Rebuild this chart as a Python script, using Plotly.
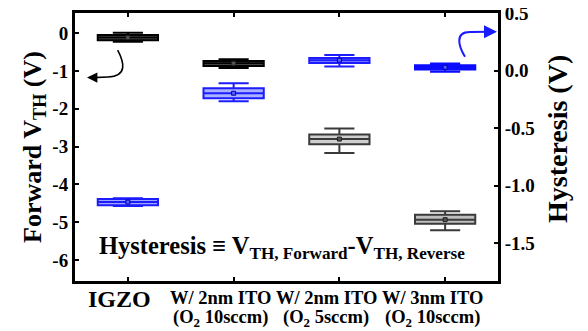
import plotly.graph_objects as go

# ---------------- data ----------------
categories = ["IGZO", "2nm_10", "2nm_5", "3nm_10"]
label_line1 = ["IGZO", "W/ 2nm ITO", "W/ 2nm ITO", "W/ 3nm ITO"]
label_line2 = ["", "(O<sub>2</sub> 10sccm)", "(O<sub>2</sub> 5sccm)", "(O<sub>2</sub> 10sccm)"]

# Forward V_TH (left axis)
fwd_lower = [-0.23, -0.92, -3.17, -5.21]
fwd_q1 = [-0.19, -0.87, -2.94, -5.04]
fwd_median = [-0.12, -0.80, -2.80, -4.93]
fwd_q3 = [-0.05, -0.74, -2.68, -4.80]
fwd_upper = [0.01, -0.69, -2.52, -4.71]

# Hysteresis (right axis)
hys_lower = [-1.178, -0.265, 0.036, -0.010]
hys_q1 = [-1.170, -0.239, 0.068, 0.010]
hys_median = [-1.143, -0.196, 0.091, 0.030]
hys_q3 = [-1.117, -0.152, 0.111, 0.048]
hys_upper = [-1.109, -0.109, 0.137, 0.063]

left_ticks = [0, -1, -2, -3, -4, -5, -6]
left_ticktext = ["0", "-1", "-2", "-3", "-4", "-5", "-6"]
right_ticks = [0.5, 0.0, -0.5, -1.0, -1.5]
right_ticktext = ["0.5", "0.0", "-0.5", "-1.0", "-1.5"]

# ---------------- styles ----------------
fwd_fill = ["#5a5a5a", "#5a5a5a", "#cfcfcf", "#bfbfbf"]
fwd_line = ["#000000", "#000000", "#3a3a3a", "#3a3a3a"]
hys_fill = ["#9ea6ff", "#aab2ff", "#8a93ff", "#1414ff"]
hys_line = ["#1c1cff", "#1c1cff", "#1c1cff", "#0b0bff"]

FONT = "Liberation Serif"
BOX_W = 0.57

fig = go.Figure()

for i, c in enumerate(categories):
    fig.add_trace(go.Box(
        x=[c], q1=[fwd_q1[i]], median=[fwd_median[i]], q3=[fwd_q3[i]],
        lowerfence=[fwd_lower[i]], upperfence=[fwd_upper[i]],
        boxpoints=False, width=BOX_W, whiskerwidth=0.5,
        fillcolor=fwd_fill[i], line=dict(color=fwd_line[i], width=2),
        yaxis="y", showlegend=False, hoverinfo="skip"))
    fig.add_trace(go.Scatter(
        x=[c], y=[fwd_median[i]], mode="markers", yaxis="y",
        marker=dict(symbol="square", size=4, color="#555555",
                    line=dict(color="#222222", width=1)),
        showlegend=False, hoverinfo="skip"))
    fig.add_trace(go.Box(
        x=[c], q1=[hys_q1[i]], median=[hys_median[i]], q3=[hys_q3[i]],
        lowerfence=[hys_lower[i]], upperfence=[hys_upper[i]],
        boxpoints=False, width=BOX_W, whiskerwidth=0.5,
        fillcolor=hys_fill[i], line=dict(color=hys_line[i], width=2),
        yaxis="y2", showlegend=False, hoverinfo="skip"))
    fig.add_trace(go.Scatter(
        x=[c], y=[hys_median[i]], mode="markers", yaxis="y2",
        marker=dict(symbol="square", size=4, color="#5560ff",
                    line=dict(color="#0000aa", width=1)),
        showlegend=False, hoverinfo="skip"))

# The page body has an 8px default margin; compensate so the plot area
# lands at screen x 75..498, y 13..281.
OFF = 8
W, H = 588 - OFF, 331 - OFF
L, R, T, B = 75 - OFF, 90, 13 - OFF, 50
PX0, PX1, PY0, PY1 = 75, 498, 13, 281


def px(x):
    return (x - PX0) / (PX1 - PX0)


def py(y):
    return (PY1 - y) / (PY1 - PY0)


def pt(x, y):
    return f"{px(x):.4f},{py(y):.4f}"


black_path = f"M {pt(117.7, 50)} C {pt(124, 62)} {pt(128, 76)} {pt(108, 77)} L {pt(93, 77.6)}"
blue_path = f"M {pt(465, 56.7)} C {pt(459, 47)} {pt(454, 32)} {pt(470, 32)} L {pt(490, 31.7)}"

annotations = [
    dict(xref="paper", yref="paper", x=px(87), y=py(77.6), ax=9, ay=0,
         text="", showarrow=True, arrowhead=2, arrowsize=1.3,
         arrowwidth=1.6, arrowcolor="black"),
    dict(xref="paper", yref="paper", x=px(497), y=py(31.7), ax=-9, ay=0,
         text="", showarrow=True, arrowhead=2, arrowsize=1.3,
         arrowwidth=2, arrowcolor="#1a1aff"),
    dict(xref="paper", yref="paper", x=px(282), y=py(247),
         xanchor="center", yanchor="middle", showarrow=False,
         text="<b>Hysteresis ≡ V<sub>TH, Forward</sub>-V<sub>TH, Reverse</sub></b>",
         font=dict(family=FONT, size=24.5, color="black")),
    dict(xref="paper", yref="paper", x=px(557), y=py(139),
         xanchor="center", yanchor="middle", showarrow=False, textangle=-90,
         text="<b>Hysteresis (V)</b>",
         font=dict(family=FONT, size=28, color="black")),
]

# category labels (two lines, drawn as text below the axis)
for i, c in enumerate(categories):
    if label_line2[i]:
        annotations.append(dict(
            xref="x", yref="paper", x=c, y=py(298), xshift=-13,
            xanchor="center", yanchor="middle", showarrow=False,
            text=f"<b>{label_line1[i]}</b>",
            font=dict(family=FONT, size=18.5, color="black")))
        annotations.append(dict(
            xref="x", yref="paper", x=c, y=py(318), xshift=-13,
            xanchor="center", yanchor="middle", showarrow=False,
            text=f"<b>{label_line2[i]}</b>",
            font=dict(family=FONT, size=18.5, color="black")))
    else:
        annotations.append(dict(
            xref="x", yref="paper", x=c, y=py(299), xshift=-8,
            xanchor="center", yanchor="middle", showarrow=False,
            text=f"<b>{label_line1[i]}</b>",
            font=dict(family=FONT, size=24, color="black")))

fig.update_layout(
    shapes=[
        dict(type="path", xref="paper", yref="paper", path=black_path,
             line=dict(color="black", width=1.6)),
        dict(type="path", xref="paper", yref="paper", path=blue_path,
             line=dict(color="#1a1aff", width=2)),
    ],
    annotations=annotations,
)

fig.update_layout(
    width=W, height=H,
    margin=dict(l=L, r=R, t=T, b=B, pad=0, autoexpand=False),
    paper_bgcolor="white", plot_bgcolor="white",
    boxmode="overlay",
    font=dict(family=FONT, color="black"),
    xaxis=dict(
        type="category", categoryorder="array", categoryarray=categories,
        range=[-0.5, 3.5], tickmode="array", tickvals=categories,
        showticklabels=False,
        showline=True, linewidth=3, linecolor="black", mirror="ticks",
        ticks="inside", ticklen=4, tickwidth=2, tickcolor="black",
        showgrid=False, zeroline=False, automargin=False,
    ),
    yaxis=dict(
        range=[-6.55, 0.53], tickmode="array", tickvals=left_ticks,
        ticktext=[f"<b>{t}</b>" for t in left_ticktext],
        tickfont=dict(family=FONT, size=19, color="black"),
        ticklabeloverflow="allow",
        title=dict(text="<b>Forward V<sub>TH</sub> (V)</b>",
                   font=dict(family=FONT, size=26, color="black"), standoff=4),
        showline=True, linewidth=3, linecolor="black",
        ticks="inside", ticklen=4, tickwidth=2, tickcolor="black",
        showgrid=False, zeroline=False, automargin=False,
    ),
    yaxis2=dict(
        overlaying="y", side="right",
        range=[-1.83, 0.502], tickmode="array", tickvals=right_ticks,
        ticktext=[f"<b>{t}</b>" for t in right_ticktext],
        tickfont=dict(family=FONT, size=19, color="black"),
        ticklabeloverflow="allow",
        showline=True, linewidth=3, linecolor="black",
        ticks="inside", ticklen=4, tickwidth=2, tickcolor="black",
        showgrid=False, zeroline=False, automargin=False,
    ),
)

fig.write_html("out.html")
